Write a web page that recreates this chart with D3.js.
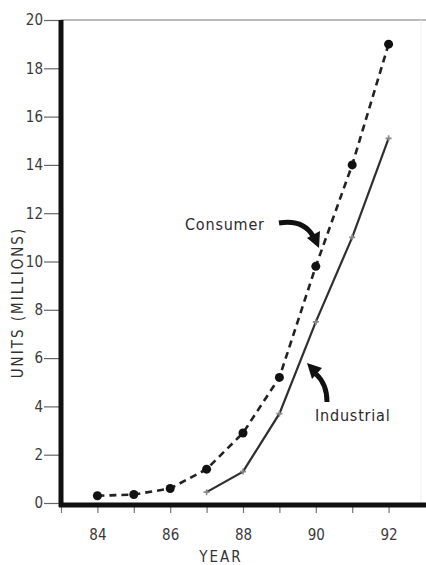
<!DOCTYPE html>
<html>
<head>
<meta charset="utf-8">
<script src="https://cdn.jsdelivr.net/npm/d3@7"></script>
<style>
  body { margin: 0; background: #fff; }
  svg { display: block; }
  text { font-family: "DejaVu Sans Condensed", "DejaVu Sans", sans-serif; }
</style>
</head>
<body>
<svg id="chart" width="426" height="565"></svg>
<script>
// data
const consumerYears = [84, 85, 86, 87, 88, 89, 90, 91, 92];
const consumerUnits = [0.3, 0.35, 0.6, 1.4, 2.9, 5.2, 9.8, 14.0, 19.0];
const industrialYears = [87, 88, 89, 90, 91, 92];
const industrialUnits = [0.45, 1.3, 3.7, 7.5, 11.0, 15.1];
const yTicks = [0, 2, 4, 6, 8, 10, 12, 14, 16, 18, 20];
const xTicks = [83, 84, 85, 86, 87, 88, 89, 90, 91, 92];
const xLabelled = [84, 86, 88, 90, 92];

const svg = d3.select('#chart');

const x = d3.scaleLinear().domain([83, 93]).range([61, 425]);
const y = d3.scaleLinear().domain([0, 20]).range([503, 20]);

// thin top border
svg.append('line')
  .attr('x1', x(83)).attr('x2', 426)
  .attr('y1', y(20)).attr('y2', y(20))
  .attr('stroke', '#777').attr('stroke-width', 1.2);
svg.append('line')
  .attr('x1', 421).attr('x2', 421)
  .attr('y1', y(20)).attr('y2', 505)
  .attr('stroke', '#f0f0f0').attr('stroke-width', 1);

// y axis ticks + labels
const yAxis = svg.append('g')
  .attr('transform', `translate(${x(83)},0)`)
  .call(d3.axisLeft(y).tickValues(yTicks).tickSize(17).tickPadding(1));
yAxis.select('.domain').remove();
yAxis.selectAll('line').attr('stroke', '#666').attr('stroke-width', 1.2);
yAxis.selectAll('text')
  .attr('fill', '#3a3a3a')
  .style('font-size', '15px');

// x axis ticks + labels
const xAxis = svg.append('g')
  .attr('transform', `translate(0,${y(0) + 2})`)
  .call(d3.axisBottom(x).tickValues(xTicks).tickSize(8).tickPadding(16)
    .tickFormat(d => xLabelled.includes(d) ? d : ''));
xAxis.select('.domain').remove();
xAxis.selectAll('line').attr('stroke', '#777').attr('stroke-width', 1.2);
xAxis.selectAll('text')
  .attr('fill', '#3a3a3a')
  .style('font-size', '15px');

// heavy axis lines
svg.append('line')
  .attr('x1', x(83)).attr('x2', x(83))
  .attr('y1', y(20)).attr('y2', y(0) + 4)
  .attr('stroke', '#111').attr('stroke-width', 5);
svg.append('line')
  .attr('x1', x(83) - 2).attr('x2', 426)
  .attr('y1', y(0) + 2).attr('y2', y(0) + 2)
  .attr('stroke', '#111').attr('stroke-width', 5);

// axis titles
svg.append('text')
  .attr('transform', `translate(23,${y(8.3)}) rotate(-90)`)
  .attr('text-anchor', 'middle')
  .attr('fill', '#333')
  .style('font-size', '15px')
  .style('letter-spacing', '2px')
  .text('UNITS (MILLIONS)');
svg.append('text')
  .attr('x', 221).attr('y', 562)
  .attr('text-anchor', 'middle')
  .attr('fill', '#333')
  .style('font-size', '15px')
  .style('letter-spacing', '2px')
  .text('YEAR');

const line = d3.line().x(d => x(d[0])).y(d => y(d[1]));

// industrial: solid line with small crosses
const industrial = industrialYears.map((yr, i) => [yr, industrialUnits[i]]);
svg.append('path')
  .datum(industrial)
  .attr('d', line)
  .attr('fill', 'none')
  .attr('stroke', '#2f2f2f')
  .attr('stroke-width', 2.2);
svg.append('g').selectAll('path')
  .data(industrial)
  .join('path')
  .attr('d', d => `M${x(d[0]) - 3},${y(d[1])}h6M${x(d[0])},${y(d[1]) - 3}v6`)
  .attr('stroke', '#888')
  .attr('stroke-width', 1.6);

// consumer: dashed line with dots
const consumer = consumerYears.map((yr, i) => [yr, consumerUnits[i]]);
svg.append('path')
  .datum(consumer)
  .attr('d', line)
  .attr('fill', 'none')
  .attr('stroke', '#222')
  .attr('stroke-width', 2.6)
  .attr('stroke-dasharray', '7,5');
svg.append('g').selectAll('circle')
  .data(consumer)
  .join('circle')
  .attr('cx', d => x(d[0]))
  .attr('cy', d => y(d[1]))
  .attr('r', 4.5)
  .attr('fill', '#111');

// annotations
svg.append('text')
  .attr('x', 185).attr('y', 230)
  .attr('fill', '#2a2a2a')
  .style('font-size', '16px')
  .style('letter-spacing', '0.8px')
  .text('Consumer');
svg.append('path')
  .attr('d', 'M279,223 Q303,219 313,236')
  .attr('fill', 'none')
  .attr('stroke', '#111')
  .attr('stroke-width', 5);
svg.append('path')
  .attr('d', 'M319,248 L307,238 L320,231 Z')
  .attr('fill', '#111');

svg.append('text')
  .attr('x', 315).attr('y', 421)
  .attr('fill', '#2a2a2a')
  .style('font-size', '16px')
  .style('letter-spacing', '0.8px')
  .text('Industrial');
svg.append('path')
  .attr('d', 'M327,402 Q327,384 316,374')
  .attr('fill', 'none')
  .attr('stroke', '#111')
  .attr('stroke-width', 5);
svg.append('path')
  .attr('d', 'M307,363 L322,368 L312,379 Z')
  .attr('fill', '#111');
</script>
</body>
</html>
